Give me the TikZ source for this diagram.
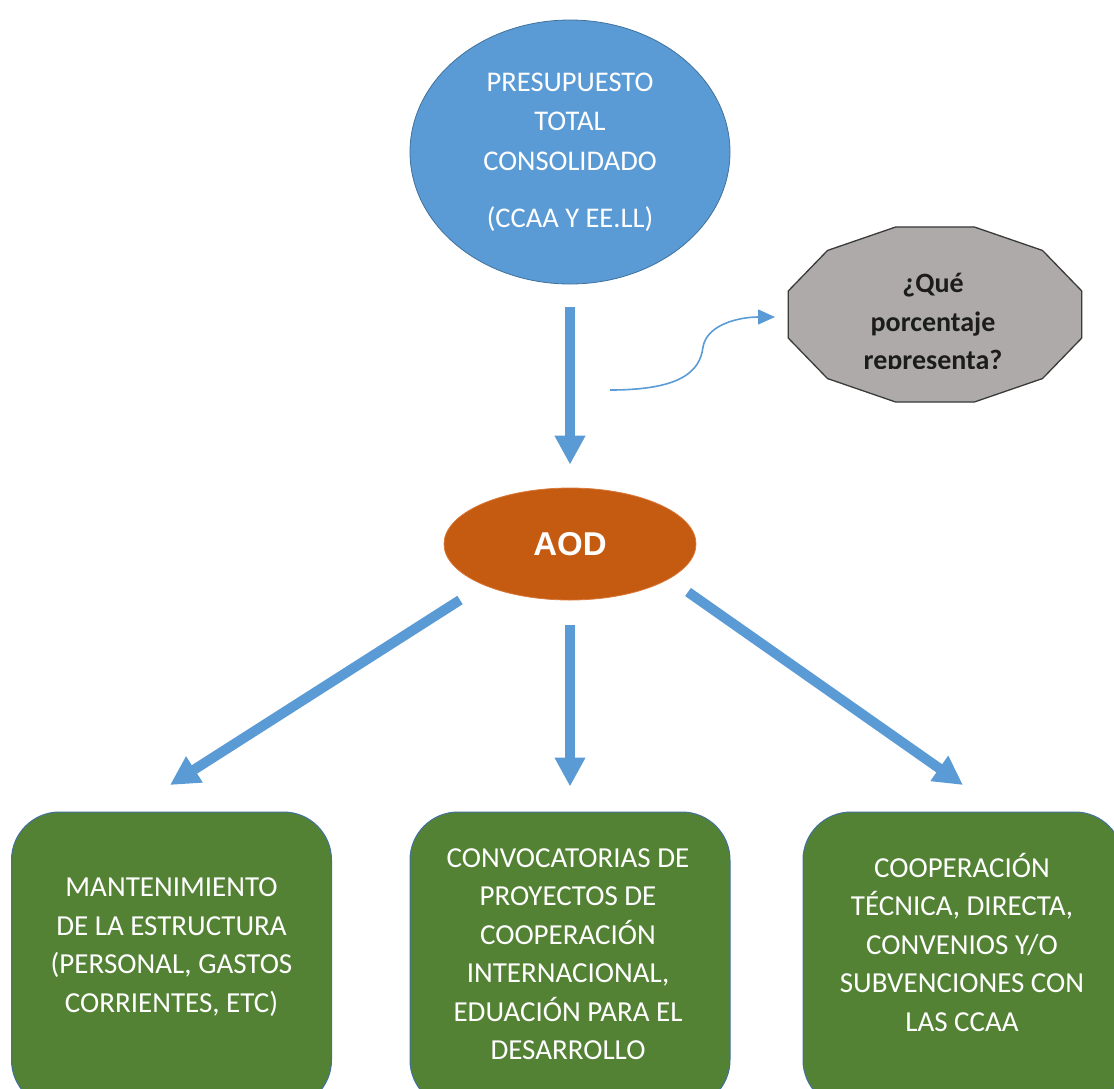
\documentclass[tikz,border=0pt]{standalone}
\usepackage{fontspec}
\setmainfont{Carlito}
\newfontfamily\aodfont{Liberation Sans}
\usetikzlibrary{arrows.meta,shapes.geometric,calc}
\definecolor{blueA}{HTML}{5B9BD5}
\definecolor{blueEdge}{HTML}{41719C}
\definecolor{orangeA}{HTML}{C55A11}
\definecolor{orangeEdge}{HTML}{D9793A}
\definecolor{greenA}{HTML}{548235}
\definecolor{grayA}{HTML}{AEAAAA}
\definecolor{grayEdge}{HTML}{3A3A3A}
\definecolor{qtext}{HTML}{1C1C1C}
\begin{document}
\begin{tikzpicture}[x=1pt,y=-1pt,
  bigarrow/.style={draw=blueA, line width=10pt, -{Triangle[length=29pt,width=29pt]}},
  thinarrow/.style={draw=blueA, line width=1.6pt, -{Triangle[length=17pt,width=15pt]}},
  gbox/.style={rectangle, rounded corners=48pt, fill=greenA, draw=blueEdge, line width=1pt,
    minimum width=320pt, minimum height=296pt},
  btext/.style={text=white, align=center, inner sep=0pt, font=\fontsize{29}{38.5}\selectfont}]
\useasboundingbox (0,0) rectangle (1114,1088);
\clip (0,0) rectangle (1114,1088);

% top ellipse
\node[ellipse, fill=blueA, draw=blueEdge, line width=0.8pt, minimum width=320pt,
  minimum height=264pt, inner sep=0pt, text=white, align=center,
  font=\fontsize{28.5}{39.5}\selectfont] (top) at (570,152)
  {PRESUPUESTO\\TOTAL\\CONSOLIDADO\\[18pt](CCAA Y EE.LL)};

% AOD ellipse
\node[ellipse, fill=orangeA, draw=orangeEdge, line width=0.8pt, minimum width=252pt,
  minimum height=112pt, inner sep=0pt, text=white,
  font=\aodfont\bfseries\fontsize{33}{40}\selectfont] (aod) at (570,544) {AOD};

% dodecagon
\coordinate (qc) at (935,314.5);
\draw[fill=grayA, draw=grayEdge, line width=1.3pt, shift={(qc)}]
  (15:152 and 90.6) \foreach \a in {45,75,...,345} { -- (\a:152 and 90.6) } -- cycle;
\begin{scope}
  \clip (780,220) rectangle (1090,368);
  \node[text=qtext, align=center, inner sep=0pt,
    font=\bfseries\fontsize{28}{38.5}\selectfont] (q) at (933,324)
    {¿Qué\\porcentaje\\representa?};
\end{scope}

% curved arrow
\coordinate (cs) at (610,390);
\coordinate (ce) at (775,317);
\draw[thinarrow] (cs) .. controls (680,390) and (700,372) .. (703,347)
  .. controls (707,324) and (740,317) .. (ce);

% boxes
\node[gbox] (b1) at (171.5,960) {};
\node[gbox] (b2) at (570,960) {};
\node[gbox] (b3) at (963,960) {};
\node[btext] (t1) at (171.5,947) {MANTENIMIENTO\\DE LA ESTRUCTURA\\(PERSONAL, GASTOS\\CORRIENTES, ETC)};
\node[btext] (t2) at (568,954) {CONVOCATORIAS DE\\PROYECTOS DE\\COOPERACIÓN\\INTERNACIONAL,\\EDUACIÓN PARA EL\\DESARROLLO};
\node[btext] (t3) at (962,942) {COOPERACIÓN\\TÉCNICA, DIRECTA,\\CONVENIOS Y/O\\SUBVENCIONES CON\\LAS CCAA};

% arrows
\draw[bigarrow, shorten <=23pt, shorten >=23pt] (top.south) -- (aod.north);
\draw[bigarrow, shorten <=25pt, shorten >=25pt] (aod.south) -- (b2.north);
\coordinate (aodL) at (460,600);
\coordinate (b1in) at (170,785);
\coordinate (aodR) at (688,592);
\coordinate (b3in) at (963,785);
\draw[bigarrow] (aodL) -- (b1in);
\draw[bigarrow] (aodR) -- (b3in);
\end{tikzpicture}
\end{document}
